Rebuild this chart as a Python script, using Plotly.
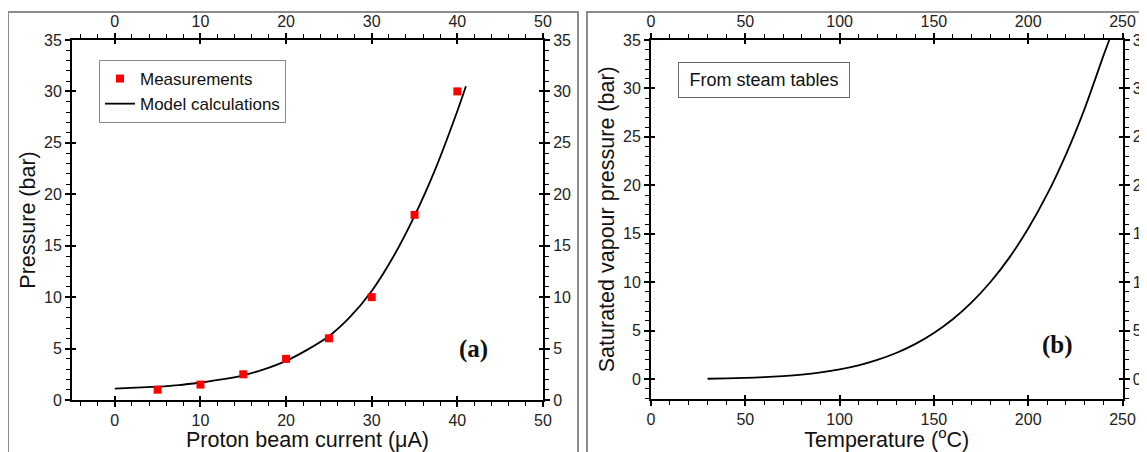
import plotly.graph_objects as go

# ---------------- data ----------------
meas_current = [5, 10, 15, 20, 25, 30, 35, 40]
meas_pressure = [1.0, 1.5, 2.5, 4.0, 6.0, 10.0, 18.0, 30.0]

model_current = [0, 2.5, 5, 7.5, 10, 12.5, 15, 17.5, 20, 22.5, 25, 27.5, 30, 32.5, 35, 37.5, 40, 41]
model_pressure = [1.1, 1.2, 1.3, 1.45, 1.7, 2.0, 2.4, 3.0, 3.8, 4.9, 6.2, 8.1, 10.6, 13.9, 17.9, 22.6, 28.1, 30.5]

steam_temp = [30, 40, 50, 60, 70, 80, 90, 100, 110, 120, 130, 140, 150, 160, 170, 180, 190, 200, 210, 220, 230, 240, 243]
steam_pressure = [0.04, 0.07, 0.12, 0.2, 0.31, 0.47, 0.7, 1.01, 1.43, 1.99, 2.7, 3.61, 4.76, 6.18, 7.92, 10.02, 12.54, 15.54, 19.06, 23.18, 27.95, 33.44, 35.0]

# page body has an 8px margin, so the figure is drawn 8px in from the top-left corner
OFF = 8
W, H = 1147 - OFF, 452 - OFF
FONT = "Liberation Sans, Arial, sans-serif"
TICKFONT = dict(family=FONT, size=16, color="#222")
TITLEFONT = dict(family=FONT, size=21.5, color="#111")

fig = go.Figure()

fig.add_trace(go.Scatter(
    x=model_current, y=model_pressure, mode="lines", name="Model calculations",
    line=dict(color="black", width=1.8, shape="spline", smoothing=0.8),
    xaxis="x", yaxis="y"))
fig.add_trace(go.Scatter(
    x=meas_current, y=meas_pressure, mode="markers", name="Measurements",
    marker=dict(symbol="square", color="#ff0000", size=8),
    xaxis="x", yaxis="y"))
fig.add_trace(go.Scatter(
    x=steam_temp, y=steam_pressure, mode="lines", name="steam",
    line=dict(color="black", width=1.8, shape="spline", smoothing=0.6),
    showlegend=False, xaxis="x5", yaxis="y5"))


def px_x(p):
    return (p - OFF) / W


def px_y(p):
    return 1 - (p - OFF) / H


def axis_set(base_x, base_y, xdom, ydom, xrange, yrange, xdtick, xminor, ydtick, yminor, xtitle, ytitle, xstand, ystand):
    """Build the 8 axes of one panel: outside (labelled) + inside (tick only) on all four sides."""
    bx = "xaxis" + ("" if base_x == 1 else str(base_x))
    by = "yaxis" + ("" if base_y == 1 else str(base_y))
    xid = "x" + ("" if base_x == 1 else str(base_x))
    yid = "y" + ("" if base_y == 1 else str(base_y))
    common_line = dict(showline=True, linecolor="black", linewidth=2, showgrid=False, zeroline=False,
                       automargin=False)
    plain = dict(showticklabels=False, showline=False, showgrid=False, zeroline=False, automargin=False)
    mj = dict(ticklen=5, tickwidth=1.5, tickcolor="black")
    mn = dict(ticks="outside", ticklen=4, tickwidth=1.2, tickcolor="black")
    out = {}
    out[bx] = dict(domain=xdom, range=xrange, anchor=yid, side="bottom", dtick=xdtick, tick0=0,
                   ticks="outside", **mj, minor=dict(dtick=xminor, **mn),
                   tickfont=TICKFONT, title=dict(text=xtitle, font=TITLEFONT, standoff=xstand),
                   **common_line)
    out[by] = dict(domain=ydom, range=yrange, anchor=xid, side="left", dtick=ydtick, tick0=0,
                   ticks="outside", **mj, minor=dict(dtick=yminor, **mn),
                   tickfont=TICKFONT, title=dict(text=ytitle, font=TITLEFONT, standoff=ystand),
                   **common_line)
    out["xaxis" + str(base_x + 1)] = dict(overlaying=xid, range=xrange, anchor=yid, side="top", dtick=xdtick, tick0=0,
                                          ticks="outside", **mj, minor=dict(dtick=xminor, **mn),
                                          tickfont=TICKFONT, **common_line)
    out["yaxis" + str(base_y + 1)] = dict(overlaying=yid, range=yrange, anchor=xid, side="right", dtick=ydtick, tick0=0,
                                          ticks="outside", **mj, minor=dict(dtick=yminor, **mn),
                                          tickfont=TICKFONT, **common_line)
    inner = dict(ticks="inside", ticklen=4, tickwidth=1.5, tickcolor="black")
    out["xaxis" + str(base_x + 2)] = dict(overlaying=xid, range=xrange, anchor=yid, side="bottom", dtick=xdtick, tick0=0, **inner, **plain)
    out["xaxis" + str(base_x + 3)] = dict(overlaying=xid, range=xrange, anchor=yid, side="top", dtick=xdtick, tick0=0, **inner, **plain)
    out["yaxis" + str(base_y + 2)] = dict(overlaying=yid, range=yrange, anchor=xid, side="left", dtick=ydtick, tick0=0, **inner, **plain)
    out["yaxis" + str(base_y + 3)] = dict(overlaying=yid, range=yrange, anchor=xid, side="right", dtick=ydtick, tick0=0, **inner, **plain)
    return out


axes = {}
axes.update(axis_set(1, 1, [px_x(72), px_x(543)], [px_y(400), px_y(40)], [-5, 50], [0, 35],
                     10, 2, 5, 1, "Proton beam current (μA)", "Pressure (bar)", 2, 2))
axes.update(axis_set(5, 5, [px_x(651), px_x(1122.5)], [px_y(398.5), px_y(40)], [0, 250], [-2, 35],
                     50, 10, 5, 1, "Temperature (<sup>o</sup>C)", "Saturated vapour pressure (bar)", 2, 2))

# invisible helper traces so every overlay axis is drawn
for xa, ya in [("x2", "y"), ("x3", "y"), ("x4", "y"), ("x", "y2"), ("x", "y3"), ("x", "y4"),
               ("x6", "y5"), ("x7", "y5"), ("x8", "y5"), ("x5", "y6"), ("x5", "y7"), ("x5", "y8")]:
    fig.add_trace(go.Scatter(x=[None], y=[None], xaxis=xa, yaxis=ya, showlegend=False,
                             hoverinfo="skip", mode="markers"))

fig.update_layout(
    width=W, height=H,
    margin=dict(l=0, r=0, t=0, b=0, autoexpand=False),
    paper_bgcolor="white", plot_bgcolor="rgba(0,0,0,0)",
    font=dict(family=FONT, color="#111"),
    showlegend=True,
    legend=dict(x=px_x(99), y=px_y(60), xanchor="left", yanchor="top",
                bordercolor="#8a8a8a", borderwidth=1, bgcolor="white",
                font=dict(family=FONT, size=17, color="#111"),
                traceorder="reversed", itemwidth=30, tracegroupgap=0),
    shapes=[
        dict(type="rect", xref="paper", yref="paper", x0=px_x(8), x1=px_x(578), y0=-0.2, y1=px_y(12),
             line=dict(color="#8c8c8c", width=2), layer="below"),
        dict(type="rect", xref="paper", yref="paper", x0=px_x(587), x1=1.2, y0=-0.2, y1=px_y(12),
             line=dict(color="#8c8c8c", width=2), layer="below"),
    ],
    annotations=[
        dict(text="<b>(a)</b>", xref="paper", yref="paper", x=px_x(473), y=px_y(349),
             xanchor="center", yanchor="middle", showarrow=False,
             font=dict(family="Liberation Serif, Times New Roman, serif", size=25, color="#111")),
        dict(text="<b>(b)</b>", xref="paper", yref="paper", x=px_x(1057), y=px_y(345),
             xanchor="center", yanchor="middle", showarrow=False,
             font=dict(family="Liberation Serif, Times New Roman, serif", size=25, color="#111")),
        dict(text="From steam tables", xref="paper", yref="paper", x=px_x(764), y=px_y(80),
             xanchor="center", yanchor="middle", showarrow=False,
             font=dict(family=FONT, size=18, color="#111"),
             bordercolor="#666", borderwidth=1, borderpad=5, bgcolor="white", width=160, height=24),
    ],
    **axes,
)

fig.write_html("out.html")
